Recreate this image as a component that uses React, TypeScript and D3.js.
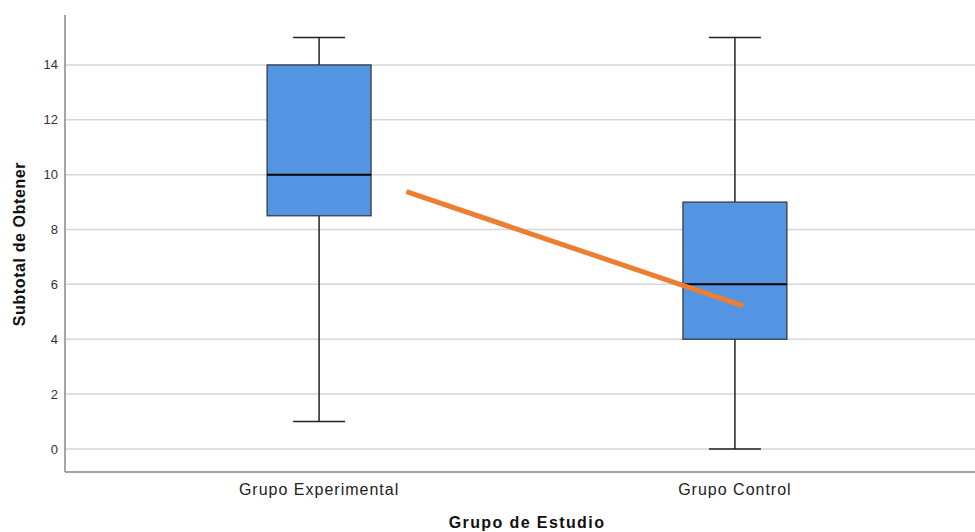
import * as d3 from 'd3';
import React, { useEffect, useRef } from 'react';

// box plot summary values per group
const categories = ['Grupo Experimental', 'Grupo Control'];
const mins = [1, 0];
const q1s = [8.5, 4];
const medians = [10, 6];
const q3s = [14, 9];
const maxs = [15, 15];

// orange line (group means), x given in category-index units
const lineIdx = [0.21, 1.02];
const lineVals = [9.38, 5.22];

const yTicks = [0, 2, 4, 6, 8, 10, 12, 14];

const App = () => {
    const ref = useRef(null);
    const width = 975;
    const height = 532;
    const margin = { top: 15, right: 0, bottom: 60, left: 65 };
    const font = 'Liberation Sans, Arial, sans-serif';

    useEffect(() => {
        const svg = d3.select(ref.current);
        svg.selectAll('*').remove();

        const y = d3.scaleLinear()
            .domain([-0.84, 15.82])
            .range([height - margin.bottom, margin.top]);

        const x = d3.scalePoint()
            .domain(categories)
            .range([margin.left, 989])
            .padding(0.611);

        const idx = d3.scaleLinear()
            .domain([0, 1])
            .range([x(categories[0]), x(categories[1])]);

        const boxW = 104;
        const capW = 52;

        // grid
        svg.append('g')
            .selectAll('line')
            .data(yTicks)
            .enter()
            .append('line')
            .attr('x1', margin.left)
            .attr('x2', width)
            .attr('y1', d => y(d))
            .attr('y2', d => y(d))
            .attr('stroke', '#d6d6d6')
            .attr('stroke-width', 1.5);

        // tick labels
        svg.append('g')
            .selectAll('text')
            .data(yTicks)
            .enter()
            .append('text')
            .attr('x', 58)
            .attr('y', d => y(d))
            .attr('dy', '0.35em')
            .attr('text-anchor', 'end')
            .attr('font-family', font)
            .attr('font-size', 13)
            .attr('fill', '#333')
            .text(d => d);

        // axes
        svg.append('line')
            .attr('x1', margin.left).attr('x2', margin.left)
            .attr('y1', margin.top).attr('y2', height - margin.bottom)
            .attr('stroke', '#888').attr('stroke-width', 1.5);
        svg.append('line')
            .attr('x1', margin.left).attr('x2', width)
            .attr('y1', height - margin.bottom).attr('y2', height - margin.bottom)
            .attr('stroke', '#888').attr('stroke-width', 1.5);

        const boxes = svg.append('g')
            .selectAll('g')
            .data(categories)
            .enter()
            .append('g');

        // whiskers
        boxes.append('line')
            .attr('x1', d => x(d)).attr('x2', d => x(d))
            .attr('y1', (d, i) => y(mins[i])).attr('y2', (d, i) => y(maxs[i]))
            .attr('stroke', '#222').attr('stroke-width', 1.5);
        boxes.append('line')
            .attr('x1', d => x(d) - capW / 2).attr('x2', d => x(d) + capW / 2)
            .attr('y1', (d, i) => y(mins[i])).attr('y2', (d, i) => y(mins[i]))
            .attr('stroke', '#222').attr('stroke-width', 1.5);
        boxes.append('line')
            .attr('x1', d => x(d) - capW / 2).attr('x2', d => x(d) + capW / 2)
            .attr('y1', (d, i) => y(maxs[i])).attr('y2', (d, i) => y(maxs[i]))
            .attr('stroke', '#222').attr('stroke-width', 1.5);

        // boxes
        boxes.append('rect')
            .attr('x', d => x(d) - boxW / 2)
            .attr('width', boxW)
            .attr('y', (d, i) => y(q3s[i]))
            .attr('height', (d, i) => y(q1s[i]) - y(q3s[i]))
            .attr('fill', '#5495e3')
            .attr('stroke', '#333')
            .attr('stroke-width', 1.2);

        boxes.append('line')
            .attr('x1', d => x(d) - boxW / 2).attr('x2', d => x(d) + boxW / 2)
            .attr('y1', (d, i) => y(medians[i])).attr('y2', (d, i) => y(medians[i]))
            .attr('stroke', '#000').attr('stroke-width', 2);

        // mean line
        const line = d3.line()
            .x(d => idx(d[0]))
            .y(d => y(d[1]));
        svg.append('path')
            .datum(lineIdx.map((v, i) => [v, lineVals[i]]))
            .attr('d', line)
            .attr('fill', 'none')
            .attr('stroke', '#ed7d31')
            .attr('stroke-width', 5);

        // category labels
        svg.append('g')
            .selectAll('text')
            .data(categories)
            .enter()
            .append('text')
            .attr('x', d => x(d))
            .attr('y', 495)
            .attr('text-anchor', 'middle')
            .attr('font-family', font)
            .attr('font-size', 16)
            .attr('letter-spacing', 1)
            .attr('fill', '#222')
            .text(d => d);

        // titles
        svg.append('text')
            .attr('x', (x(categories[0]) + x(categories[1])) / 2)
            .attr('y', 528)
            .attr('text-anchor', 'middle')
            .attr('font-family', font)
            .attr('font-size', 16)
            .attr('font-weight', 'bold')
            .attr('letter-spacing', 1.4)
            .attr('fill', '#111')
            .text('Grupo de Estudio');

        svg.append('text')
            .attr('transform', 'translate(25,244) rotate(-90)')
            .attr('text-anchor', 'middle')
            .attr('font-family', font)
            .attr('font-size', 16)
            .attr('font-weight', 'bold')
            .attr('letter-spacing', 0.6)
            .attr('fill', '#111')
            .text('Subtotal de Obtener');
    }, []);

    return (
        <div style={{ position: 'absolute', left: 0, top: 0 }}>
            <svg ref={ref} width={width} height={height} style={{ display: 'block', background: '#fff' }}>
            </svg>
        </div>
    );
};

export default App;
